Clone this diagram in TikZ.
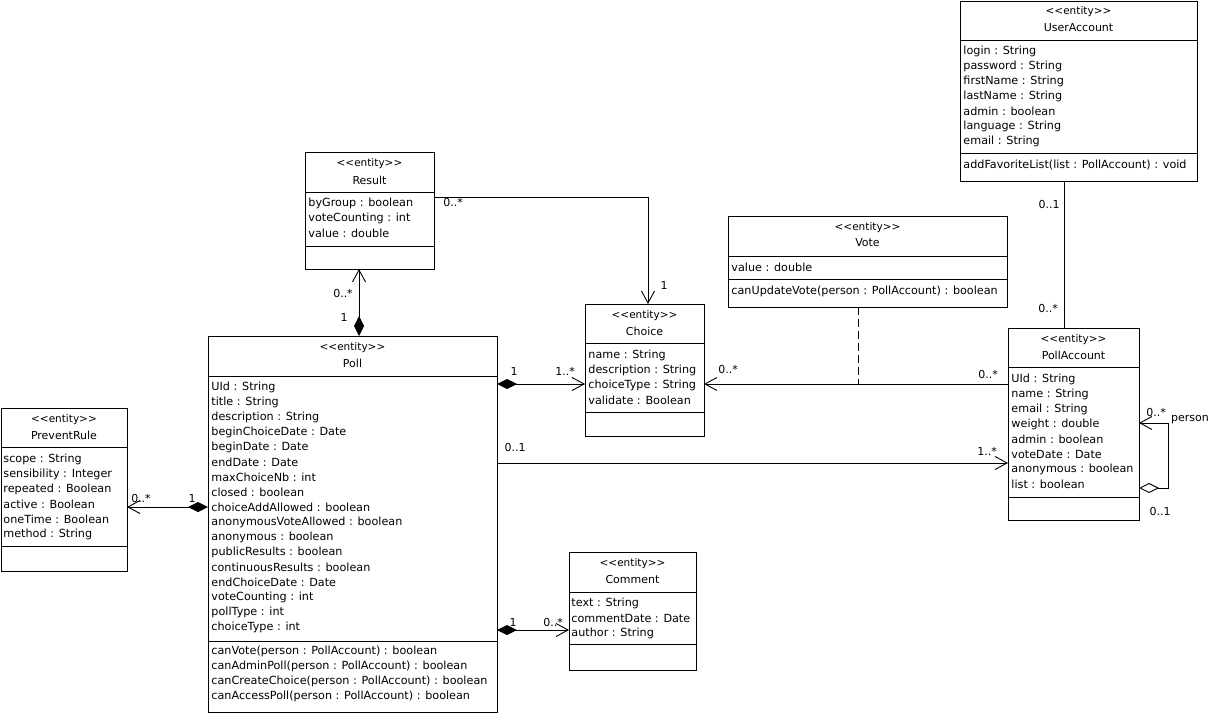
\documentclass[tikz,border=0pt]{standalone}
\usepackage{fontspec}
\setmainfont{DejaVu Sans}[Ligatures=TeXReset]
\usetikzlibrary{arrows.meta}

\begin{document}
\begin{tikzpicture}[x=1pt,y=-1pt,line width=0.9pt,
		>={Straight Barb[length=12pt,width=13pt]},
		box/.style={draw,anchor=north west,inner sep=0pt,outer sep=0pt},
		stereo/.style={inner sep=0pt,font=\fontsize{10.5}{11}\selectfont},
		cname/.style={inner sep=0pt,font=\fontsize{11}{12}\selectfont},
		attr/.style={anchor=west,inner sep=0pt,font=\fontsize{11.2}{12}\selectfont},
		mult/.style={inner sep=0pt,font=\fontsize{11}{12}\selectfont},
		comp/.style={{Diamond[length=20pt,width=10pt]}->},
		aggr/.style={{Diamond[open,length=20pt,width=10pt,fill=white]}->}]
		\useasboundingbox (0,0) rectangle (1210,714);

		% UserAccount
		\node[box,minimum width=237pt,minimum height=180pt] (ua) at (960,1) {};
		\draw ([yshift=-39pt]ua.north west) -- ([yshift=-39pt]ua.north east);
		\draw ([yshift=-152pt]ua.north west) -- ([yshift=-152pt]ua.north east);
		\node[stereo] (ua-s) at ([yshift=-11pt]ua.north) {<<entity>>};
		\node[cname] (ua-n) at ([yshift=-27pt]ua.north) {UserAccount};
		\foreach \t [count=\i from 0] in {login : String, password : String, firstName : String, lastName : String, admin : boolean, language : String, email : String}
			{\node[attr] (ua-a\i) at ([xshift=3pt,yshift={-50-15*\i}]ua.north west) {\t};}
		\node[attr] (ua-m0) at ([xshift=3pt,yshift=-164pt]ua.north west) {addFavoriteList(list : PollAccount) : void};

		% Result
		\node[box,minimum width=129pt,minimum height=117pt] (result) at (305,152) {};
		\draw ([yshift=-40pt]result.north west) -- ([yshift=-40pt]result.north east);
		\draw ([yshift=-94pt]result.north west) -- ([yshift=-94pt]result.north east);
		\node[stereo] (result-s) at ([yshift=-12pt]result.north) {<<entity>>};
		\node[cname] (result-n) at ([yshift=-28pt]result.north) {Result};
		\foreach \t [count=\i from 0] in {byGroup : boolean, voteCounting : int, value : double}
			{\node[attr] (result-a\i) at ([xshift=3pt,yshift={-51-15*\i}]result.north west) {\t};}

		% Choice
		\node[box,minimum width=119pt,minimum height=132pt] (choice) at (585,304) {};
		\draw ([yshift=-39pt]choice.north west) -- ([yshift=-39pt]choice.north east);
		\draw ([yshift=-108pt]choice.north west) -- ([yshift=-108pt]choice.north east);
		\node[stereo] (choice-s) at ([yshift=-12pt]choice.north) {<<entity>>};
		\node[cname] (choice-n) at ([yshift=-27pt]choice.north) {Choice};
		\foreach \t [count=\i from 0] in {name : String, description : String, choiceType : String, validate : Boolean}
			{\node[attr] (choice-a\i) at ([xshift=3pt,yshift={-51-15*\i}]choice.north west) {\t};}

		% Vote
		\node[box,minimum width=279pt,minimum height=91pt] (vote) at (728,216) {};
		\draw ([yshift=-40pt]vote.north west) -- ([yshift=-40pt]vote.north east);
		\draw ([yshift=-63pt]vote.north west) -- ([yshift=-63pt]vote.north east);
		\node[stereo] (vote-s) at ([yshift=-12pt]vote.north) {<<entity>>};
		\node[cname] (vote-n) at ([yshift=-27pt]vote.north) {Vote};
		\node[attr] (vote-a0) at ([xshift=3pt,yshift=-51pt]vote.north west) {value : double};
		\node[attr] (vote-m0) at ([xshift=3pt,yshift=-75pt]vote.north west) {canUpdateVote(person : PollAccount) : boolean};

		% PollAccount
		\node[box,minimum width=131pt,minimum height=192pt] (pa) at (1008,328) {};
		\draw ([yshift=-39pt]pa.north west) -- ([yshift=-39pt]pa.north east);
		\draw ([yshift=-169pt]pa.north west) -- ([yshift=-169pt]pa.north east);
		\node[stereo] (pa-s) at ([yshift=-12pt]pa.north) {<<entity>>};
		\node[cname] (pa-n) at ([yshift=-27pt]pa.north) {PollAccount};
		\foreach \t [count=\i from 0] in {UId : String, name : String, email : String, weight : double, admin : boolean, voteDate : Date, anonymous : boolean, list : boolean}
			{\node[attr] (pa-a\i) at ([xshift=3pt,yshift={-51-15*\i}]pa.north west) {\t};}

		% Poll
		\node[box,minimum width=289pt,minimum height=376pt] (poll) at (208,336) {};
		\draw ([yshift=-40pt]poll.north west) -- ([yshift=-40pt]poll.north east);
		\draw ([yshift=-305pt]poll.north west) -- ([yshift=-305pt]poll.north east);
		\node[stereo] (poll-s) at ([yshift=-12pt]poll.north) {<<entity>>};
		\node[cname] (poll-n) at ([yshift=-27pt]poll.north) {Poll};
		\foreach \t [count=\i from 0] in {UId : String, title : String, description : String, beginChoiceDate : Date, beginDate : Date, endDate : Date, maxChoiceNb : int, closed : boolean, choiceAddAllowed : boolean, anonymousVoteAllowed : boolean, anonymous : boolean, publicResults : boolean, continuousResults : boolean, endChoiceDate : Date, voteCounting : int, pollType : int, choiceType : int}
			{\node[attr] (poll-a\i) at ([xshift=3pt,yshift={-51-15*\i}]poll.north west) {\t};}
		\foreach \t [count=\i from 0] in {canVote(person : PollAccount) : boolean, canAdminPoll(person : PollAccount) : boolean, canCreateChoice(person : PollAccount) : boolean, canAccessPoll(person : PollAccount) : boolean}
			{\node[attr] (poll-m\i) at ([xshift=3pt,yshift={-315-15*\i}]poll.north west) {\t};}

		% PreventRule
		\node[box,minimum width=126pt,minimum height=163pt] (pr) at (1,408) {};
		\draw ([yshift=-39pt]pr.north west) -- ([yshift=-39pt]pr.north east);
		\draw ([yshift=-138pt]pr.north west) -- ([yshift=-138pt]pr.north east);
		\node[stereo] (pr-s) at ([yshift=-12pt]pr.north) {<<entity>>};
		\node[cname] (pr-n) at ([yshift=-27pt]pr.north) {PreventRule};
		\foreach \t [count=\i from 0] in {scope : String, sensibility : Integer, repeated : Boolean, active : Boolean, oneTime : Boolean, method : String}
			{\node[attr] (pr-a\i) at ([xshift=2pt,yshift={-51-15*\i}]pr.north west) {\t};}

		% Comment
		\node[box,minimum width=127pt,minimum height=118pt] (comment) at (569,552) {};
		\draw ([yshift=-40pt]comment.north west) -- ([yshift=-40pt]comment.north east);
		\draw ([yshift=-92pt]comment.north west) -- ([yshift=-92pt]comment.north east);
		\node[stereo] (comment-s) at ([yshift=-12pt]comment.north) {<<entity>>};
		\node[cname] (comment-n) at ([yshift=-27pt]comment.north) {Comment};
		\foreach \t [count=\i from 0] in {text : String, commentDate : Date, author : String}
			{\node[attr] (comment-a\i) at ([xshift=2pt,yshift={-51-15*\i}]comment.north west) {\t};}

		% associations
		\draw[->] ([yshift=-45pt]result.north east) -| ([xshift=3.5pt]choice.north);
		\draw[comp] ([xshift=6.5pt]poll.north) -- ([xshift=-10.5pt]result.south);
		\draw[comp] ([yshift=-48pt]poll.north east) -- ([yshift=-80pt]choice.north west);
		\draw[->] ([yshift=-56pt]pa.north west) -- ([yshift=-80pt]choice.north east);
		\coordinate (vote-link) at (858,384);
		\draw[dash pattern=on 8pt off 4pt] (vote.south -| vote-link) -- (vote-link);
		\draw[->] ([yshift=-127pt]poll.north east) -- ([yshift=-135pt]pa.north west);
		\draw ([xshift=-14.5pt]ua.south) -- ([xshift=-9.5pt]pa.north);
		\draw[aggr] ([yshift=-160pt]pa.north east) -- ++(29,0) -- ++(0,-65) -- ([yshift=-95pt]pa.north east);
		\draw[comp] ([yshift=-171pt]poll.north west) -- ([yshift=-99pt]pr.north east);
		\draw[comp] ([yshift=-294pt]poll.north east) -- ([yshift=-78pt]comment.north west);

		% multiplicities
		\node[mult] (m-res-ch) at (453,202) {0..*};
		\node[mult] (m-ch-res) at (664,285) {1};
		\node[mult] (m-res-poll) at (343,293) {0..*};
		\node[mult] (m-poll-res) at (344,317) {1};
		\node[mult] (m-poll-ch) at (514,371) {1};
		\node[mult] (m-ch-poll) at (565,371) {1..*};
		\node[mult] (m-ch-pa) at (728,369) {0..*};
		\node[mult] (m-pa-ch) at (988,374) {0..*};
		\node[mult] (m-poll-pa) at (515,447) {0..1};
		\node[mult] (m-pa-poll) at (987,451) {1..*};
		\node[mult] (m-ua-pa) at (1049,204) {0..1};
		\node[mult] (m-pa-ua) at (1048,308) {0..*};
		\node[mult] (m-self-a) at (1156,412) {0..*};
		\node[mult] (m-self-r) at (1190,420) {person};
		\node[mult] (m-self-b) at (1160,511) {0..1};
		\node[mult] (m-pr-poll) at (141,498) {0..*};
		\node[mult] (m-poll-pr) at (192,498) {1};
		\node[mult] (m-poll-cm) at (513,622) {1};
		\node[mult] (m-cm-poll) at (553,622) {0..*};
	\end{tikzpicture}
\end{document}
